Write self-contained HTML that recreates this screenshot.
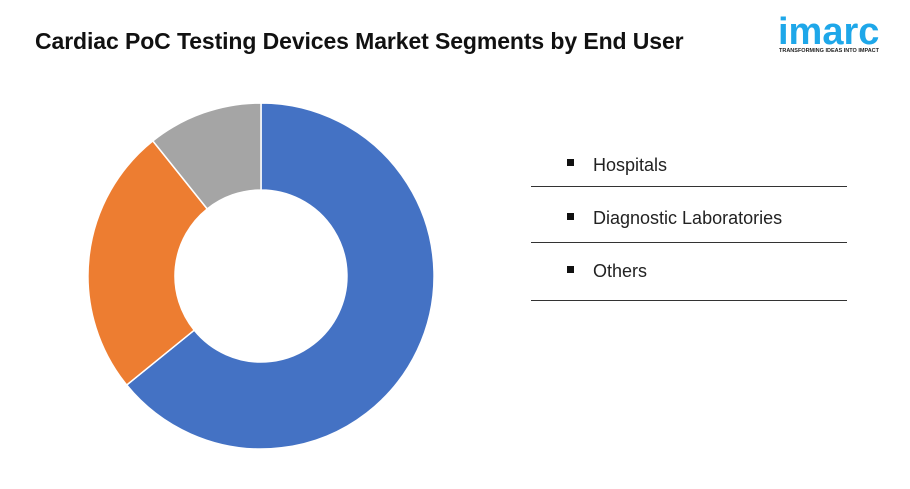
<!DOCTYPE html>
<html><head><meta charset="utf-8"><style>
body{margin:0;width:910px;height:489px;background:#fff;overflow:hidden;font-family:"Liberation Sans",Arial,sans-serif;position:relative}
.t{position:absolute;left:35px;top:28px;font-size:23px;font-weight:bold;color:#111;letter-spacing:-0.1px}
.lg{position:absolute;left:593px;font-size:18px;color:#222}
.b{position:absolute;left:567px;width:7px;height:7px;background:#111}
.ln{position:absolute;left:531px;width:316px;height:1px;background:#333}
</style></head><body>
<div class="t">Cardiac PoC Testing Devices Market Segments by End User</div>
<div style="position:absolute;left:778px;top:10px;font-size:38px;font-weight:bold;color:#1ea7e9;line-height:44px">imarc</div>
<div style="position:absolute;left:779px;top:48px;font-size:5.5px;font-weight:bold;color:#222;white-space:nowrap">TRANSFORMING IDEAS INTO IMPACT</div>
<svg width="910" height="489" style="position:absolute;left:0;top:0">
<path d="M261,103 A173,173 0 1 1 126.7,385 L194.2,330.2 A86,86 0 1 0 261,190 Z" fill="#4472c4" stroke="#fff" stroke-width="1.5"/>
<path d="M126.7,385 A173,173 0 0 1 152.8,140.9 L207.2,208.9 A86,86 0 0 0 194.2,330.2 Z" fill="#ed7d31" stroke="#fff" stroke-width="1.5"/>
<path d="M152.8,140.9 A173,173 0 0 1 261,103 L261,190 A86,86 0 0 0 207.2,208.9 Z" fill="#a5a5a5" stroke="#fff" stroke-width="1.5"/>
</svg>
<div class="b" style="top:159px"></div><div class="lg" style="top:155px">Hospitals</div><div class="ln" style="top:186px"></div>
<div class="b" style="top:213px"></div><div class="lg" style="top:208px">Diagnostic Laboratories</div><div class="ln" style="top:242px"></div>
<div class="b" style="top:266px"></div><div class="lg" style="top:261px">Others</div><div class="ln" style="top:300px"></div>
</body></html>
